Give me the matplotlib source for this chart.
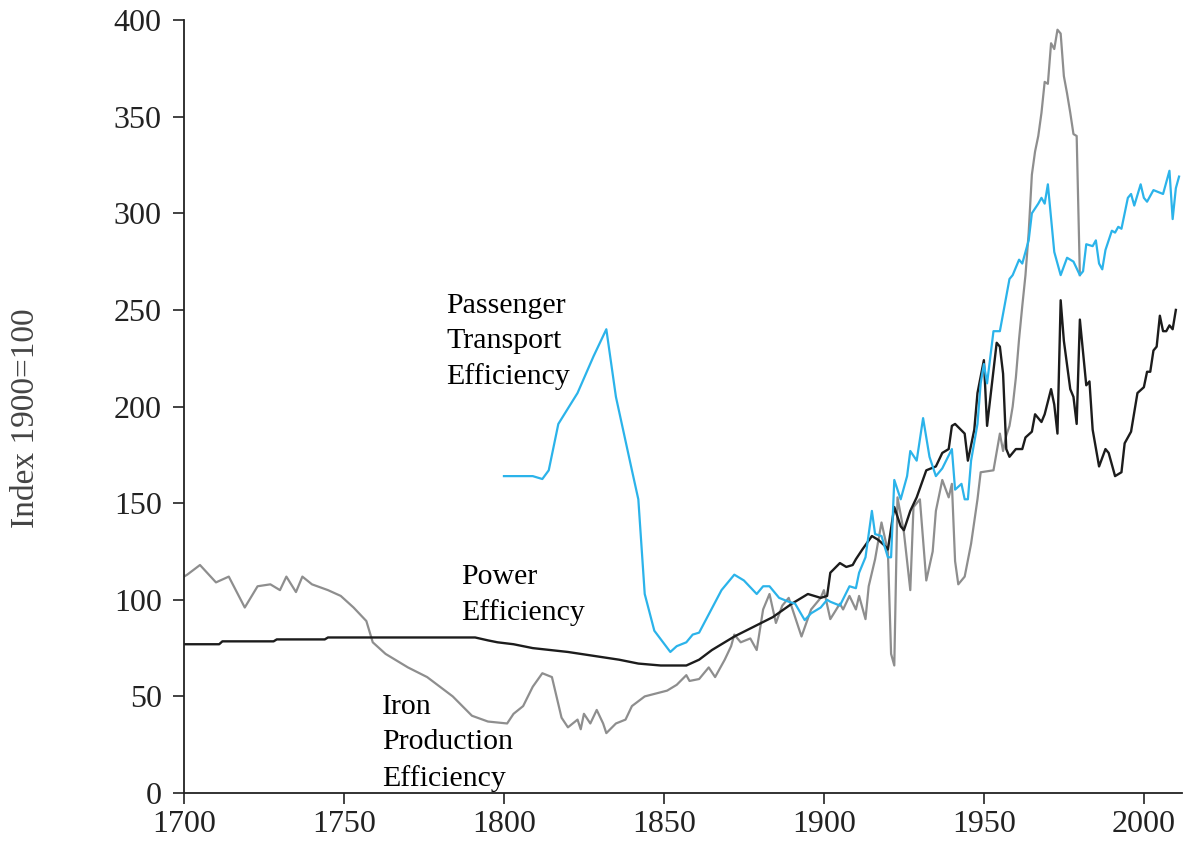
import matplotlib
matplotlib.use("Agg")
import matplotlib.pyplot as plt

plt.rcParams['font.family'] = ['Liberation Serif', 'DejaVu Serif']

# Iron production efficiency (grey)
iron_years = [1700, 1701, 1705, 1710, 1714, 1719, 1723, 1727, 1730, 1732, 1735, 1737, 1740,
              1745, 1749, 1753, 1757, 1759, 1763, 1770, 1776, 1784, 1790, 1795, 1801,
              1803, 1806, 1809, 1812, 1815, 1818, 1820, 1823, 1824, 1825, 1827, 1829, 1831,
              1832, 1835, 1838, 1840, 1844, 1851, 1854, 1857, 1858, 1861, 1864, 1866,
              1869, 1871, 1872, 1874, 1877, 1879, 1881, 1883, 1885, 1887, 1889, 1891, 1893,
              1896, 1899, 1900, 1902, 1905, 1906, 1908, 1910, 1911, 1913, 1914, 1916, 1918,
              1920, 1921, 1922, 1923, 1925, 1927, 1928, 1930, 1932, 1934, 1935, 1937,
              1939, 1940, 1941, 1942, 1944, 1946, 1948, 1949, 1953, 1955, 1956, 1957,
              1958, 1959, 1960, 1961, 1962, 1963, 1964, 1965, 1966, 1967, 1968, 1969,
              1970, 1971, 1972, 1973, 1974, 1975, 1976, 1977, 1978, 1979, 1980]
iron_vals = [112, 113, 118, 109, 112, 96, 107, 108, 105, 112, 104, 112, 108,
             105, 102, 96, 89, 78, 72, 65, 60, 50, 40, 37, 36,
             41, 45, 55, 62, 60, 39, 34, 38, 33, 41, 36, 43, 36,
             31, 36, 38, 45, 50, 53, 56, 61, 58, 59, 65, 60,
             69, 76, 82, 78, 80, 74, 95, 103, 88, 97, 101, 91, 81,
             95, 101, 105, 90, 98, 95, 102, 95, 102, 90, 107, 121, 140,
             125, 72, 66, 153, 135, 105, 148, 152, 110, 125, 146, 162,
             153, 160, 120, 108, 112, 129, 152, 166, 167, 186, 177, 185,
             190, 200, 215, 235, 252, 268, 290, 320, 332, 340, 352, 368,
             367, 388, 385, 395, 393, 371, 362, 352, 341, 340, 268]

# Power efficiency (black)
power_years = [1700, 1711, 1712, 1728, 1729, 1744, 1745, 1791, 1795, 1798, 1803, 1809,
               1820, 1830, 1836, 1842, 1849, 1857, 1861, 1865, 1872, 1878, 1884, 1890,
               1895, 1899, 1901, 1902, 1905, 1907, 1909, 1910, 1912, 1915, 1917, 1919,
               1920, 1922, 1924, 1925, 1927, 1929, 1932, 1935, 1937, 1939, 1940, 1941,
               1944, 1945, 1947, 1948, 1950, 1951, 1954, 1955, 1956, 1957, 1958, 1960,
               1962, 1963, 1965, 1966, 1968, 1969, 1971, 1972, 1973, 1974, 1975, 1977,
               1978, 1979, 1980, 1982, 1983, 1984, 1986, 1988, 1989, 1991, 1993, 1994,
               1996, 1998, 2000, 2001, 2002, 2003, 2004, 2005, 2006, 2007, 2008, 2009, 2010]
power_vals = [77, 77, 78.5, 78.5, 79.5, 79.5, 80.5, 80.5, 79, 78, 77, 75,
              73, 70.5, 69, 67, 66, 66, 69, 74, 81, 86, 91, 98,
              103, 101, 102, 114, 119, 117, 118, 121, 126, 133, 131, 128,
              126, 148, 138, 136, 146, 153, 167, 169, 176, 178, 190, 191,
              186, 172, 188, 207, 224, 190, 233, 231, 217, 178, 174, 178,
              178, 184, 187, 196, 192, 196, 209, 201, 186, 255, 234, 209,
              205, 191, 245, 211, 213, 188, 169, 178, 176, 164, 166, 181,
              187, 207, 210, 218, 218, 229, 231, 247, 239, 239, 242, 240, 250]

# Passenger transport efficiency (blue)
transport_years = [1800, 1809, 1812, 1814, 1817, 1823, 1828, 1832, 1835, 1840, 1842, 1844,
                   1847, 1852, 1854, 1857, 1859, 1861, 1868, 1872, 1875, 1879, 1881, 1883,
                   1886, 1889, 1891, 1894, 1896, 1899, 1901, 1902, 1905, 1908, 1910, 1911,
                   1913, 1915, 1916, 1918, 1920, 1921, 1922, 1924, 1926, 1927, 1929, 1931,
                   1933, 1935, 1937, 1940, 1941, 1943, 1944, 1945, 1946, 1948, 1949, 1950,
                   1951, 1953, 1955, 1956, 1958, 1959, 1961, 1962, 1964, 1965, 1967, 1968,
                   1969, 1970, 1972, 1974, 1976, 1978, 1980, 1981, 1982, 1984, 1985, 1986,
                   1987, 1988, 1990, 1991, 1992, 1993, 1995, 1996, 1997, 1999, 2000, 2001,
                   2003, 2006, 2008, 2009, 2010, 2011]
transport_vals = [164, 164, 162.5, 167, 191, 207, 226, 240, 205, 167, 152, 103,
                  84, 73, 76, 78, 82, 83, 105, 113, 110, 103, 107, 107,
                  101, 99, 98, 89.5, 93, 96, 100, 99, 97, 107, 106, 114,
                  122, 146, 134, 133, 122, 122, 162, 152, 164, 177, 172, 194,
                  174, 164, 168, 178, 157, 160, 152, 152, 172, 191, 212, 222,
                  212, 239, 239, 248, 266, 268, 276, 274, 286, 300, 305, 308,
                  305, 315, 280, 268, 277, 275, 268, 270, 284, 283, 286, 274,
                  271, 281, 291, 290, 293, 292, 308, 310, 304, 315, 308, 306,
                  312, 310, 322, 297, 313, 319]

x_ticks = [1700, 1750, 1800, 1850, 1900, 1950, 2000]
y_ticks = [0, 50, 100, 150, 200, 250, 300, 350, 400]

fig = plt.figure(figsize=(11.87, 8.46), dpi=100)
ax = fig.add_axes([0.155, 0.0626, 0.841, 0.9137])

ax.plot(iron_years, iron_vals, color='#8e8e8e', lw=1.6)
ax.plot(power_years, power_vals, color='#1c1c1c', lw=1.7)
ax.plot(transport_years, transport_vals, color='#2bb3ea', lw=1.6)

ax.set_xlim(1700, 2012)
ax.set_ylim(0, 400)
ax.set_xticks(x_ticks)
ax.set_yticks(y_ticks)
ax.tick_params(direction='out', length=8, width=1.2, labelsize=23, colors='#222222')
ax.tick_params(axis='x', pad=4)
ax.tick_params(axis='y', pad=8)
for s in ['top', 'right']:
    ax.spines[s].set_visible(False)
for s in ['left', 'bottom']:
    ax.spines[s].set_linewidth(1.3)
    ax.spines[s].set_color('#222222')

ax.set_ylabel("Index 1900=100", fontsize=24, color='#444444')
ax.yaxis.set_label_coords(-0.143, 0.485)

# labels next to each curve
ax.text(1782, 259, "Passenger\nTransport\nEfficiency", fontsize=21.5, va='top', ha='left',
        linespacing=1.45)
ax.text(1786.5, 118.5, "Power\nEfficiency", fontsize=21.5, va='top', ha='left', linespacing=1.45)
ax.text(1762, 51, "Iron\nProduction\nEfficiency", fontsize=21.5, va='top', ha='left',
        linespacing=1.45)

fig.savefig("out.png", dpi=100)
